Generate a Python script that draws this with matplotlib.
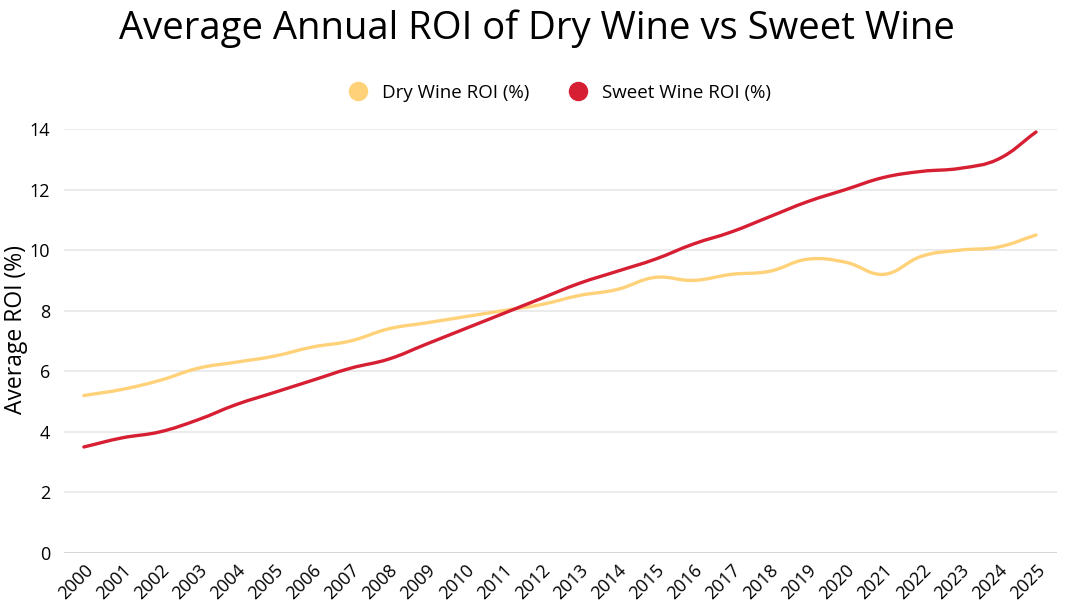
import matplotlib.pyplot as plt
from matplotlib.path import Path
from matplotlib.patches import PathPatch
from matplotlib.lines import Line2D
from matplotlib.transforms import ScaledTranslation
import numpy as np

plt.rcParams['font.family'] = ['Open Sans', 'DejaVu Sans']

years = list(range(2000, 2026))
dry_roi = [5.2, 5.4, 5.7, 6.1, 6.3, 6.5, 6.8, 7.0, 7.4, 7.6, 7.8, 8.0, 8.2,
           8.5, 8.7, 9.1, 9.0, 9.2, 9.3, 9.7, 9.6, 9.2, 9.8, 10.0, 10.1, 10.5]
sweet_roi = [3.5, 3.8, 4.0, 4.4, 4.9, 5.3, 5.7, 6.1, 6.4, 6.9, 7.4, 7.9, 8.4,
             8.9, 9.3, 9.7, 10.2, 10.6, 11.1, 11.6, 12.0, 12.4, 12.6, 12.7, 13.0, 13.9]
series_names = ['Dry Wine ROI (%)', 'Sweet Wine ROI (%)']
colors = ['#FFD27A', '#D61F33']


def smooth_path(xs, ys, tension=0.4, sx=38.1, sy=30.3):
    # chart.js-like bezier smoothing, distances measured in pixel-ish units
    pts = np.column_stack([xs, ys]).astype(float)
    n = len(pts)
    cp_prev, cp_next = [], []
    for i in range(n):
        p = pts[i]
        a = pts[max(i - 1, 0)]
        b = pts[min(i + 1, n - 1)]
        d01 = np.hypot((p[0] - a[0]) * sx, (p[1] - a[1]) * sy)
        d12 = np.hypot((b[0] - p[0]) * sx, (b[1] - p[1]) * sy)
        s = d01 + d12
        fa = tension * d01 / s if s else 0
        fb = tension * d12 / s if s else 0
        cp_prev.append(p - fa * (b - a))
        cp_next.append(p + fb * (b - a))
    verts = [pts[0]]
    codes = [Path.MOVETO]
    for i in range(n - 1):
        verts += [cp_next[i], cp_prev[i + 1], pts[i + 1]]
        codes += [Path.CURVE4] * 3
    return Path(verts, codes)


fig = plt.figure(figsize=(10.8, 6.07), dpi=100)
ax = fig.add_axes([0.0593, 0.089, 0.9194, 0.6985])

for vals, c in zip([dry_roi, sweet_roi], colors):
    patch = PathPatch(smooth_path(years, vals), fill=False, edgecolor=c,
                      lw=2.4, capstyle='round', joinstyle='round')
    ax.add_patch(patch)

ax.set_xlim(years[0] - 0.52, years[-1] + 0.55)
ax.set_ylim(0, 14)
ax.set_yticks(range(0, 15, 2))
ax.set_xticks(years)
ax.set_xticklabels([str(y) for y in years], rotation=45, ha='right',
                   va='top', rotation_mode='anchor', fontsize=13)
# shift rotated labels a bit to the right, like the original
shift = ScaledTranslation(0.12, 0, fig.dpi_scale_trans)
for lbl in ax.get_xticklabels():
    lbl.set_transform(lbl.get_transform() + shift)
ax.tick_params(axis='y', labelsize=13, length=0, pad=10)
ax.tick_params(axis='x', length=0, pad=6)
ax.grid(axis='y', color='#e6e6e6', lw=1.1)
ax.axhline(0, color='#d0d0d0', lw=1.8, zorder=1)
for s in ax.spines.values():
    s.set_visible(False)
ax.set_axisbelow(True)

ax.set_ylabel('Average ROI (%)', fontsize=16.5)
ax.yaxis.set_label_coords(-0.036, 0.528)

fig.text(0.497, 0.952, 'Average Annual ROI of Dry Wine vs Sweet Wine',
         ha='center', va='center', fontsize=27.5)

handles = [Line2D([], [], ls='none', marker='o', markersize=13,
                  markerfacecolor=c, markeredgecolor=c) for c in colors]
fig.legend(handles, series_names, loc='center', bbox_to_anchor=(0.514, 0.847),
           ncol=2, frameon=False, fontsize=13.5, handletextpad=0.3,
           columnspacing=1.6)

fig.savefig('out.png', dpi=100)
